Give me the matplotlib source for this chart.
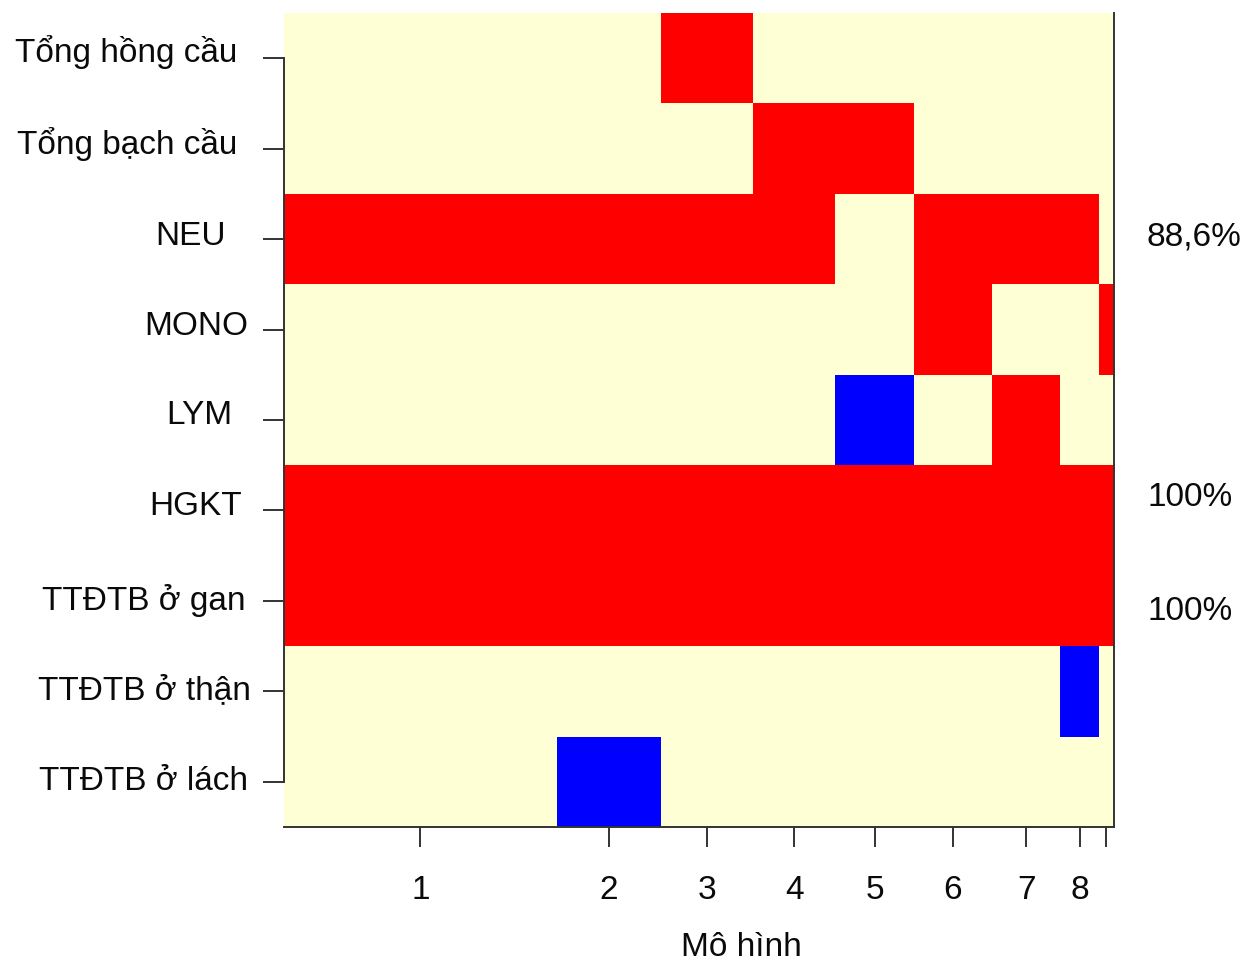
import numpy as np
import matplotlib
matplotlib.use("Agg")
import matplotlib.pyplot as plt
from matplotlib.colors import ListedColormap, BoundaryNorm
from matplotlib.transforms import blended_transform_factory

# ---------------- data ----------------
variables = ["Tổng hồng cầu", "Tổng bạch cầu", "NEU", "MONO", "LYM",
             "HGKT", "TTĐTB ở gan", "TTĐTB ở thận", "TTĐTB ở lách"]
model_labels = ["1", "2", "3", "4", "5", "6", "7", "8", ""]
# posterior probability of each model (column widths)
model_probs = [0.329, 0.124, 0.111, 0.099, 0.094, 0.094, 0.082, 0.047, 0.017]
# 1 = positive coefficient (red), -1 = negative (blue), 0 = not in model
inclusion = [
    [0, 0, 1, 0, 0, 0, 0, 0, 0],     # Tổng hồng cầu
    [0, 0, 0, 1, 1, 0, 0, 0, 0],     # Tổng bạch cầu
    [1, 1, 1, 1, 0, 1, 1, 1, 0],     # NEU
    [0, 0, 0, 0, 0, 1, 0, 0, 1],     # MONO
    [0, 0, 0, 0, -1, 0, 1, 0, 0],    # LYM
    [1, 1, 1, 1, 1, 1, 1, 1, 1],     # HGKT
    [1, 1, 1, 1, 1, 1, 1, 1, 1],     # TTĐTB ở gan
    [0, 0, 0, 0, 0, 0, 0, -1, 0],    # TTĐTB ở thận
    [0, -1, 0, 0, 0, 0, 0, 0, 0],    # TTĐTB ở lách
]
pip_vars = ["NEU", "HGKT", "TTĐTB ở gan"]
pip_text = ["88,6%", "100%", "100%"]

# ---------------- style ----------------
plt.rcParams['font.family'] = ['Liberation Sans', 'DejaVu Sans']
FS = 24
cream, red, blue = "#FFFFD5", "#FF0000", "#0000FF"
axis_col = "#333333"
txt_col = "#0a0a0a"

fig = plt.figure(figsize=(12.47, 9.62), dpi=100)
L, R, T, B = 283.5, 1113.5, 14, 828
W, H = 1247, 962
ax = fig.add_axes([L / W, 1 - B / H, (R - L) / W, (B - T) / H])

xedges = np.concatenate([[0], np.cumsum(model_probs)])
yedges = np.arange(len(variables) + 1)
Z = np.array(inclusion, dtype=float)
cmap = ListedColormap([blue, cream, red])
norm = BoundaryNorm([-1.5, -0.5, 0.5, 1.5], cmap.N)
ax.pcolormesh(xedges, yedges, Z, cmap=cmap, norm=norm, antialiased=False)

ax.set_xlim(xedges[0], xedges[-1])
ax.set_ylim(len(variables), 0)

centers = (xedges[:-1] + xedges[1:]) / 2
ax.set_xticks(centers)
ax.set_xticklabels(model_labels, fontsize=FS, color=txt_col)
ycent = np.arange(len(variables)) + 0.5
ax.set_yticks(ycent)
ax.set_yticklabels([])

ax.tick_params(axis='x', length=14.5, width=1.4, color=axis_col, pad=19)
ax.tick_params(axis='y', length=15, width=1.4, color=axis_col)

ax.spines["top"].set_visible(False)
for s in ["left", "bottom", "right"]:
    ax.spines[s].set_color(axis_col)
    ax.spines[s].set_linewidth(1.4)
ax.spines["left"].set_bounds(ycent[0], ycent[-1])

# y labels (right edges in pixels, per label, as in the reference)
label_right_px = [237, 237, 226, 248, 232, 242, 245, 251, 248]
label_dy = [-0.08, -0.06, -0.04, -0.04, -0.06, -0.06, -0.01, -0.02, -0.01]
tr = blended_transform_factory(fig.transFigure, ax.transData)
for name, y, xr, dy in zip(variables, ycent, label_right_px, label_dy):
    ax.text(xr / W, y + dy, name, transform=tr, ha="right", va="center",
            fontsize=FS, color=txt_col)

# right-side posterior inclusion probabilities
pip_offsets = {"NEU": -0.03, "HGKT": -0.15, "TTĐTB ở gan": 0.11}
for v, t in zip(pip_vars, pip_text):
    i = variables.index(v)
    ax.text(1147 / W, i + 0.5 + pip_offsets[v], t, transform=tr,
            ha="left", va="center", fontsize=FS, color=txt_col)

fig.text(741 / W, 1 - 948 / H, "Mô hình", ha="center", va="center",
         fontsize=FS, color=txt_col)

fig.savefig("out.png", dpi=100)
